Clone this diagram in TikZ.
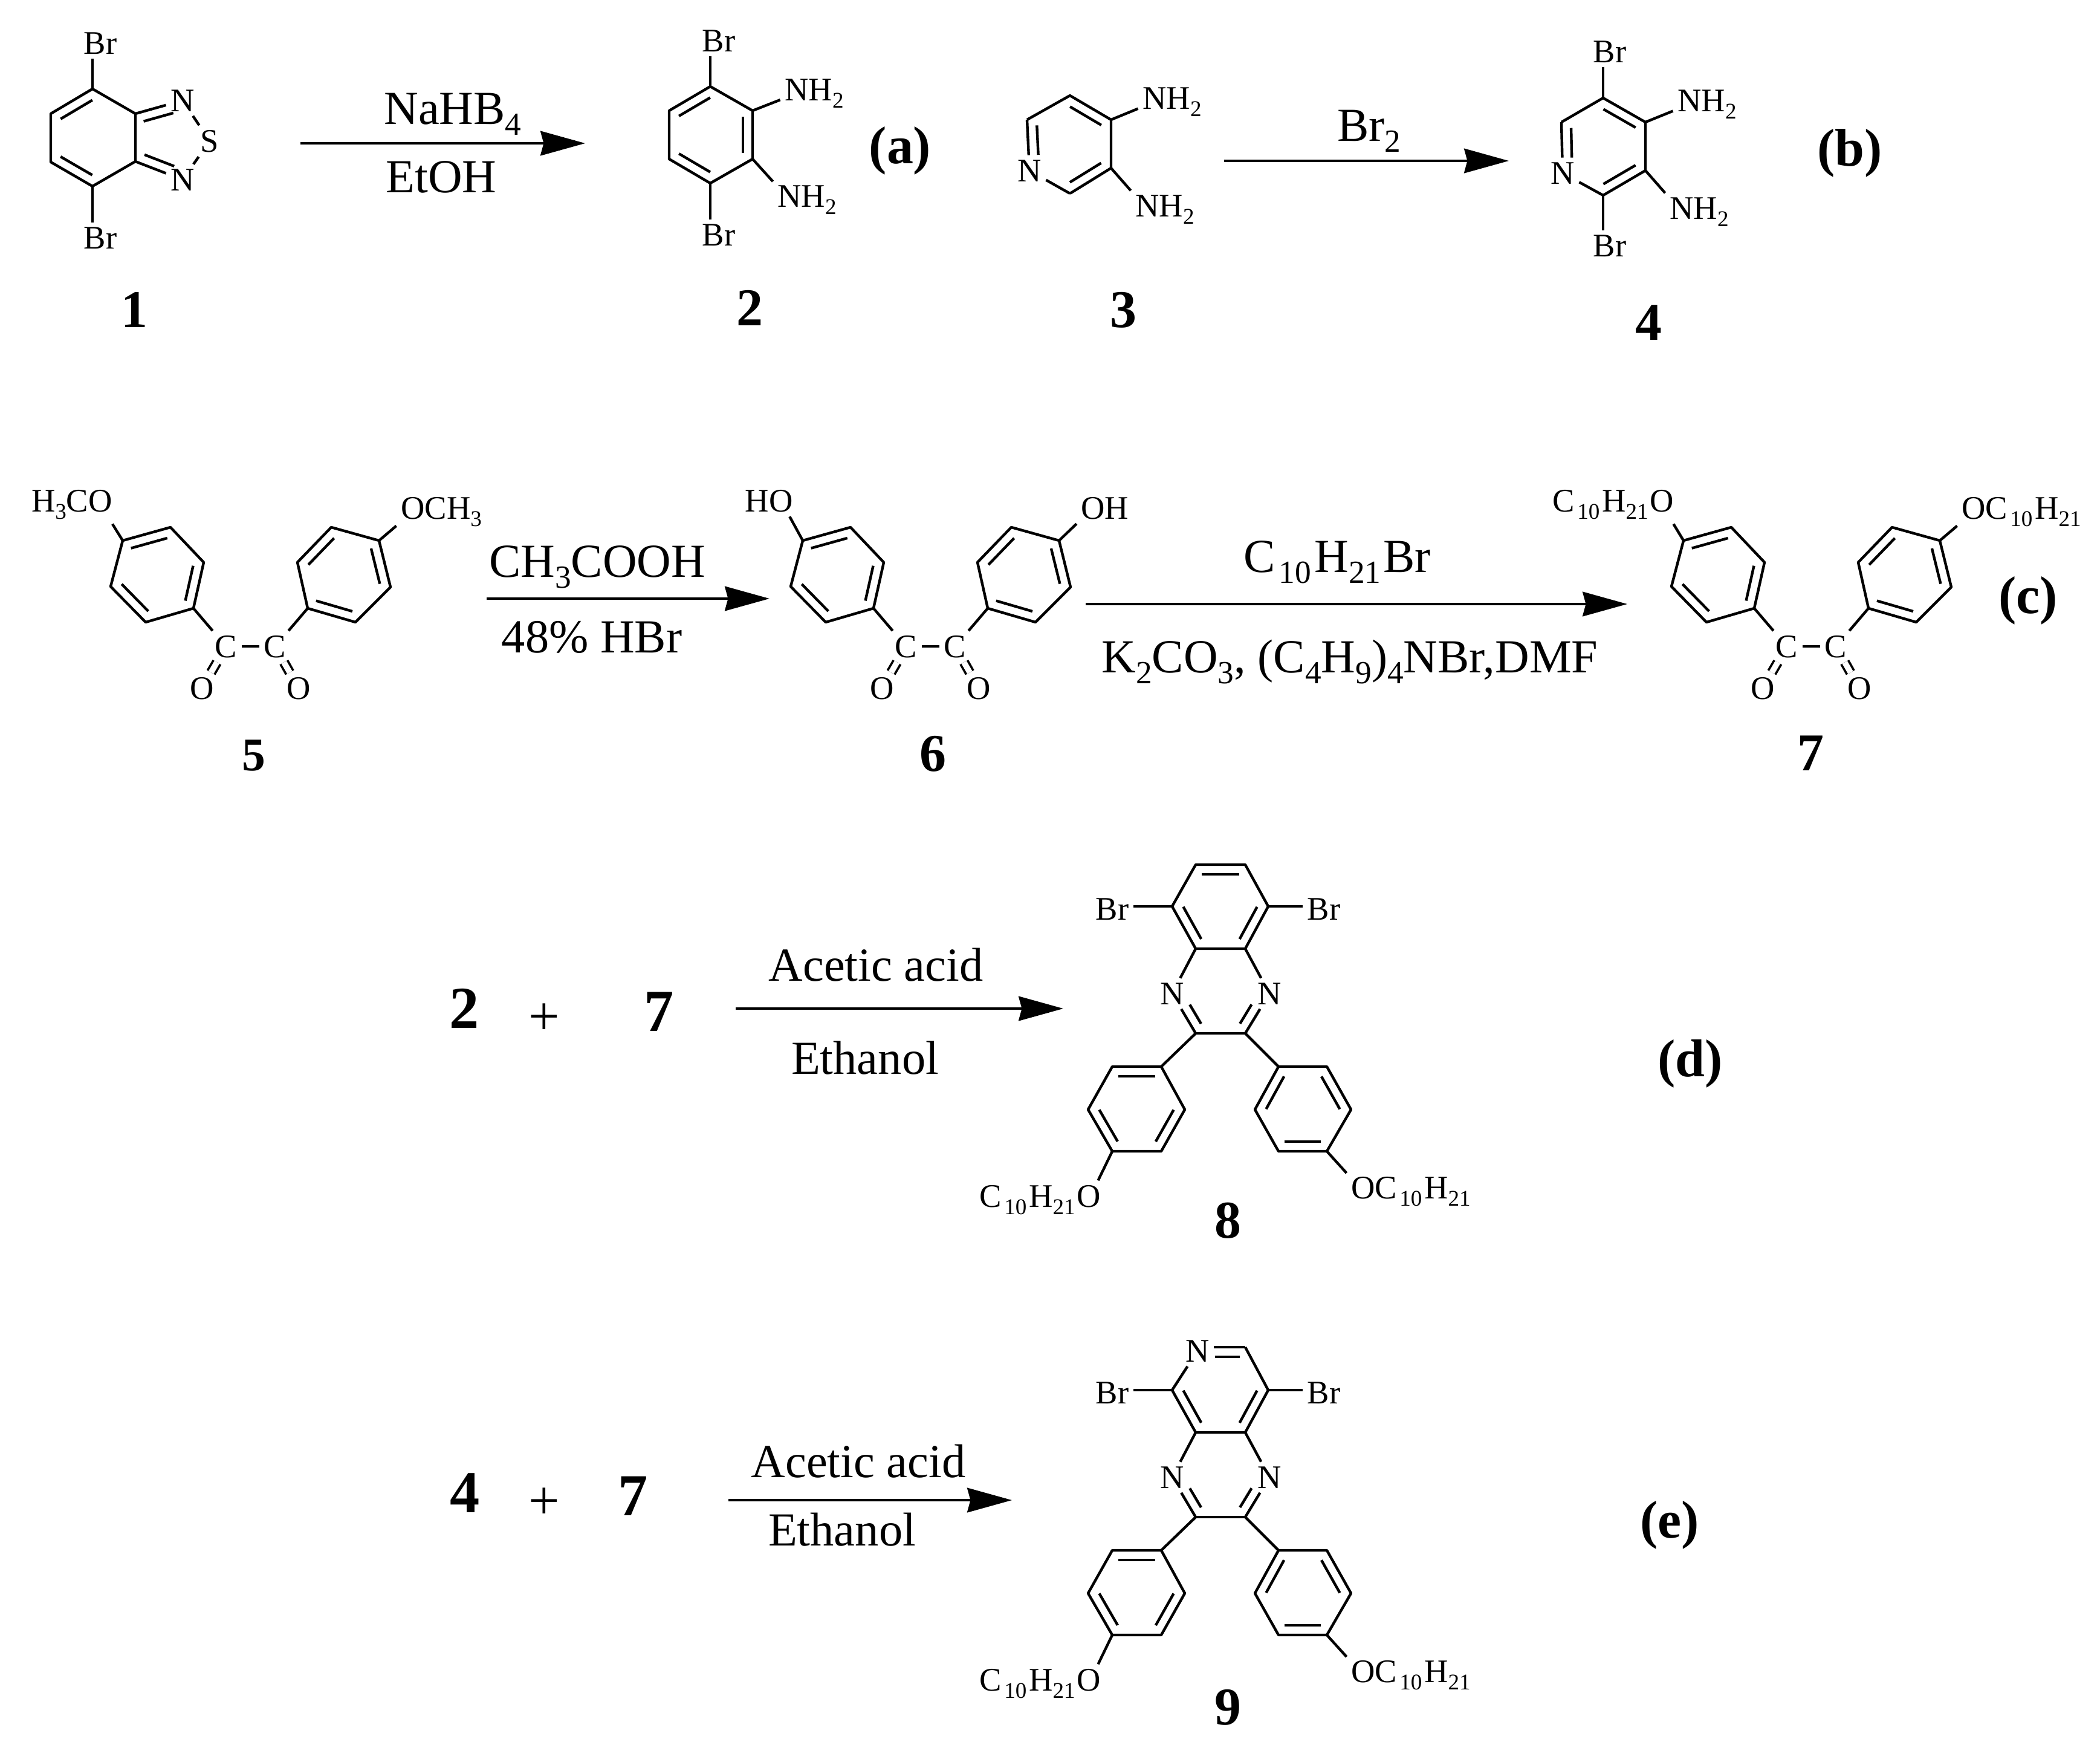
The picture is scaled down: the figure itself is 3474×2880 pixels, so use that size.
\documentclass[tikz,border=0pt]{standalone}
\usepackage{fontspec}
\setmainfont{Liberation Serif}
\usetikzlibrary{calc,arrows.meta}
\newcommand{\ssb}[1]{\raisebox{-.5ex}{\scalebox{.68}{#1}}}
\newcommand{\decyl}{C\kern.08em\ssb{10}\kern.07em H\ssb{21}\kern.05em}
\tikzset{
  bond/.style={line width=1.25pt,line join=round},
  dblbond/.style={line width=1.05pt,double,double distance=2.7pt},
  rxn/.style={line width=1.2pt,-{Stealth[length=21pt,width=11.5pt,inset=1.5pt]}},
  atom/.style={anchor=base,inner sep=2pt,font=\fontsize{15.5}{18}\selectfont},
  reagent/.style={anchor=base,inner sep=0pt,font=\fontsize{22.3}{26}\selectfont},
  plussign/.style={anchor=base,inner sep=0pt,font=\fontsize{26}{30}\selectfont},
  cmpd/.style={anchor=base,inner sep=0pt,font=\fontsize{25}{30}\selectfont\bfseries},
}
\NewDocumentCommand{\inbond}{O{.12} O{.12} m m}{\draw[bond] ($($(#3)!#1!(#4)$)!4.5pt!90:(#4)$) -- ($($(#4)!#2!(#3)$)!4.5pt!-90:(#3)$);}
\begin{document}
\begin{tikzpicture}[x=.01cm,y=-.01cm]
  \useasboundingbox (0,0) rectangle (3474,2880);
  % row a
  \coordinate (a1) at (153,147);
  \coordinate (a2) at (84,188);
  \coordinate (a3) at (84,268);
  \coordinate (a4) at (153,308);
  \coordinate (a5) at (224,267);
  \coordinate (a6) at (224,188);
  \node[atom] (aBr1) at (166,89) {Br};
  \node[atom] (aBr2) at (166,411) {Br};
  \node[atom] (aN1) at (302,184) {N};
  \node[atom] (aN2) at (302,315) {N};
  \node[atom] (aS) at (347,251) {S};
  \draw[bond] (a1) -- (a2) -- (a3) -- (a4) -- (a5) -- (a6) -- cycle;
  \inbond{a1}{a2}
  \inbond{a3}{a4}
  \inbond[.12][.25]{a5}{aN2}
  \inbond[.25][.12]{aN1}{a6}
  \draw[bond] (a1) to (a1 |- aBr1.south);
  \draw[bond] (a4) to (a4 |- aBr2.north);
  \draw[bond] (a6) to (aN1);
  \draw[bond] (a5) to (aN2);
  \draw[bond] (aN1) to (aS);
  \draw[bond] (aN2) to (aS);
  \node[cmpd] (lab1) at (222,541) {1};

  \coordinate (s1) at (497,237);
  \coordinate (t1) at (968,237);
  \draw[rxn] (s1) to (t1);
  \node[reagent] (rg1) at (749,205) {NaHB\ssb{4}};
  \node[reagent] (rg2) at (730,318) {EtOH};

  \coordinate (b1) at (1175,143);
  \coordinate (b2) at (1107,183);
  \coordinate (b3) at (1107,263);
  \coordinate (b4) at (1175,303);
  \coordinate (b5) at (1245,263);
  \coordinate (b6) at (1245,183);
  \node[atom] (bBr1) at (1189,85) {Br};
  \node[atom] (bBr2) at (1189,406) {Br};
  \node[atom] (bN1) at (1318,166) {N\rlap{H\ssb{2}}};
  \node[atom] (bN2) at (1306,342) {N\rlap{H\ssb{2}}};
  \draw[bond] (b1) -- (b2) -- (b3) -- (b4) -- (b5) -- (b6) -- cycle;
  \inbond{b1}{b2}
  \inbond{b3}{b4}
  \inbond{b5}{b6}
  \draw[bond] (b1) to (b1 |- bBr1.south);
  \draw[bond] (b4) to (b4 |- bBr2.north);
  \draw[bond] (b6) to (bN1);
  \draw[bond] (b5) to (bN2);
  \node[cmpd] (lab2) at (1240,538) {2};
  \node[cmpd] (taga) at (1489,270) {(a)};

  % row b
  \coordinate (c1) at (1770,158);
  \coordinate (c2) at (1699,198);
  \node[atom] (c3) at (1703,300) {N};
  \coordinate (c4) at (1770,320);
  \coordinate (c5) at (1838,278);
  \coordinate (c6) at (1838,198);
  \node[atom] (cN1) at (1910,180) {N\rlap{H\ssb{2}}};
  \node[atom] (cN2) at (1898,358) {N\rlap{H\ssb{2}}};
  \draw[bond] (c3) to (c2);
  \draw[bond] (c2) -- (c1) -- (c6) -- (c5) -- (c4);
  \draw[bond] (c4) to (c3);
  \inbond[.12][.3]{c2}{c3}
  \inbond{c4}{c5}
  \inbond{c6}{c1}
  \draw[bond] (c6) to (cN1);
  \draw[bond] (c5) to (cN2);
  \node[cmpd] (lab3) at (1858,541) {3};

  \coordinate (s2) at (2025,266);
  \coordinate (t2) at (2496,266);
  \draw[rxn] (s2) to (t2);
  \node[reagent] (rg3) at (2265,233) {Br\ssb{2}};

  \coordinate (d1) at (2652,162);
  \coordinate (d2) at (2583,202);
  \node[atom] (d3) at (2585,304) {N};
  \coordinate (d4) at (2652,323);
  \coordinate (d5) at (2722,282);
  \coordinate (d6) at (2722,202);
  \node[atom] (dBr1) at (2663,103) {Br};
  \node[atom] (dBr2) at (2663,424) {Br};
  \node[atom] (dN1) at (2795,184) {N\rlap{H\ssb{2}}};
  \node[atom] (dN2) at (2782,362) {N\rlap{H\ssb{2}}};
  \draw[bond] (d3) to (d2);
  \draw[bond] (d2) -- (d1) -- (d6) -- (d5) -- (d4);
  \draw[bond] (d4) to (d3);
  \inbond[.12][.3]{d2}{d3}
  \inbond{d4}{d5}
  \inbond{d6}{d1}
  \draw[bond] (d1) to (d1 |- dBr1.south);
  \draw[bond] (d4) to (d4 |- dBr2.north);
  \draw[bond] (d6) to (dN1);
  \draw[bond] (d5) to (dN2);
  \node[cmpd] (lab4) at (2727,562) {4};
  \node[cmpd] (tagb) at (3060,274) {(b)};

  % row c: the same diketone core three times
  \foreach \m/\dx in {e/0,f/1125,g/2582} {
    \begin{scope}[shift={(\dx,0)}]
      \coordinate (\m l1) at (282,872);
      \coordinate (\m l2) at (203,894);
      \coordinate (\m l3) at (183,970);
      \coordinate (\m l4) at (241,1029);
      \coordinate (\m l5) at (320,1006);
      \coordinate (\m l6) at (337,930);
      \coordinate (\m r1) at (548,872);
      \coordinate (\m r2) at (492,930);
      \coordinate (\m r3) at (509,1006);
      \coordinate (\m r4) at (588,1029);
      \coordinate (\m r5) at (646,971);
      \coordinate (\m r6) at (627,894);
      \node[atom] (\m C1) at (374,1087) {C};
      \node[atom] (\m C2) at (455,1087) {C};
      \node[atom] (\m O1) at (334,1156) {O};
      \node[atom] (\m O2) at (494,1156) {O};
      \draw[bond] (\m l1) -- (\m l2) -- (\m l3) -- (\m l4) -- (\m l5) -- (\m l6) -- cycle;
      \draw[bond] (\m r1) -- (\m r2) -- (\m r3) -- (\m r4) -- (\m r5) -- (\m r6) -- cycle;
      \inbond{\m l1}{\m l2}
      \inbond{\m l3}{\m l4}
      \inbond{\m l5}{\m l6}
      \inbond{\m r1}{\m r2}
      \inbond{\m r3}{\m r4}
      \inbond{\m r5}{\m r6}
      \draw[bond] (\m l5) to (\m C1);
      \draw[bond] (\m r3) to (\m C2);
      \draw[bond] (\m C1) to (\m C2);
      \draw[dblbond] (\m C1) to (\m O1);
      \draw[dblbond] (\m C2) to (\m O2);
    \end{scope}
  }
  \node[atom] (eO3) at (166,846) {\llap{H\ssb{3}C}O};
  \node[atom] (eO4) at (683,858) {O\rlap{CH\ssb{3}}};
  \node[atom] (fO3) at (1292,846) {\llap{H}O};
  \node[atom] (fO4) at (1808,858) {O\rlap{H}};
  \node[atom] (gO3) at (2749,846) {\llap{\decyl}O};
  \node[atom] (gO4) at (3265,858) {O\rlap{\decyl}};
  \foreach \m in {e,f,g} {
    \draw[bond] (\m l2) to (\m O3);
    \draw[bond] (\m r6) to (\m O4);
  }
  \node[font=\fontsize{22}{26}\selectfont\bfseries,anchor=base,inner sep=0pt] (lab5) at (420,1274) {5};
  \node[cmpd] (lab6) at (1543,1275) {6};
  \node[cmpd] (lab7) at (2995,1274) {7};
  \node[cmpd] (tagc) at (3355,1014) {(c)};

  \coordinate (s3) at (805,990);
  \coordinate (t3) at (1273,990);
  \draw[rxn] (s3) to (t3);
  \node[reagent] (rg4) at (988,954) {CH\ssb{3}COOH};
  \node[reagent] (rg5) at (979,1079) {48\% HBr};

  \coordinate (s4) at (1796,999);
  \coordinate (t4) at (2692,999);
  \draw[rxn] (s4) to (t4);
  \node[reagent] (rg6) at (2212,946) {\decyl Br};
  \node[reagent] (rg7) at (2233,1112) {K\ssb{2}CO\ssb{3}, (C\ssb{4}H\ssb{9})\ssb{4}NBr,DMF};

  % rows d and e: the same lower half twice
  \foreach \m/\dy in {h/0,k/800} {
    \begin{scope}[shift={(0,\dy)}]
      \coordinate (\m q2) at (1939,1499);
      \coordinate (\m q3) at (1978,1569);
      \coordinate (\m q4) at (2060,1569);
      \coordinate (\m q5) at (2098,1499);
      \node[atom] (\m Br1) at (1840,1521) {Br};
      \node[atom] (\m Br2) at (2190,1521) {Br};
      \node[atom] (\m N1) at (1939,1661) {N};
      \node[atom] (\m N2) at (2100,1661) {N};
      \coordinate (\m p1) at (1978,1709);
      \coordinate (\m p2) at (2060,1709);
      \coordinate (\m l1) at (1921,1764);
      \coordinate (\m l2) at (1840,1764);
      \coordinate (\m l3) at (1800,1835);
      \coordinate (\m l4) at (1840,1904);
      \coordinate (\m l5) at (1921,1904);
      \coordinate (\m l6) at (1960,1835);
      \coordinate (\m r1) at (2115,1764);
      \coordinate (\m r2) at (2076,1835);
      \coordinate (\m r3) at (2115,1904);
      \coordinate (\m r4) at (2195,1904);
      \coordinate (\m r5) at (2235,1835);
      \coordinate (\m r6) at (2195,1764);
      \node[atom] (\m O1) at (1801,1996) {\llap{\decyl}O};
      \node[atom] (\m O2) at (2255,1982) {O\rlap{\decyl}};
      \draw[bond] (\m q2) -- (\m q3) -- (\m q4) -- (\m q5);
      \draw[bond] (\m p1) -- (\m p2);
      \draw[bond] (\m l1) -- (\m l2) -- (\m l3) -- (\m l4) -- (\m l5) -- (\m l6) -- cycle;
      \draw[bond] (\m r1) -- (\m r2) -- (\m r3) -- (\m r4) -- (\m r5) -- (\m r6) -- cycle;
      \inbond{\m q2}{\m q3}
      \inbond{\m q4}{\m q5}
      \inbond[.4][.12]{\m N1}{\m p1}
      \inbond[.12][.4]{\m p2}{\m N2}
      \inbond{\m l1}{\m l2}
      \inbond{\m l3}{\m l4}
      \inbond{\m l5}{\m l6}
      \inbond{\m r1}{\m r2}
      \inbond{\m r3}{\m r4}
      \inbond{\m r5}{\m r6}
      \draw[bond] (\m q2) to (\m q2 -| \m Br1.east);
      \draw[bond] (\m q5) to (\m q5 -| \m Br2.west);
      \draw[bond] (\m q3) to (\m N1);
      \draw[bond] (\m q4) to (\m N2);
      \draw[bond] (\m N1) to (\m p1);
      \draw[bond] (\m N2) to (\m p2);
      \draw[bond] (\m p1) to (\m l1);
      \draw[bond] (\m p2) to (\m r1);
      \draw[bond] (\m l4) to (\m O1);
      \draw[bond] (\m r4) to (\m O2);
    \end{scope}
  }
  \coordinate (hq1) at (1978,1430);
  \coordinate (hq6) at (2060,1430);
  \draw[bond] (hq2) -- (hq1) -- (hq6) -- (hq5);
  \inbond{hq6}{hq1}
  \node[atom] (kN3) at (1981,2252) {N};
  \coordinate (kq6) at (2060,2228);
  \draw[bond] (kq2) to (kN3);
  \draw[bond] (kq5) to (kq6);
  \draw[bond] (kq6) to (kq6 -| kN3.east);
  \inbond[.12][.37]{kq6}{kq6 -| kN3}

  \node[cmpd,font=\fontsize{28}{32}\selectfont\bfseries] (lab2b) at (768,1700) {2};
  \node[plussign] (plus1) at (900,1711) {+};
  \node[cmpd,font=\fontsize{28}{32}\selectfont\bfseries] (lab7b) at (1090,1705) {7};
  \coordinate (s5) at (1217,1668);
  \coordinate (t5) at (1759,1668);
  \draw[rxn] (s5) to (t5);
  \node[reagent] (rg8) at (1449,1622) {Acetic acid};
  \node[reagent] (rg9) at (1431,1776) {Ethanol};
  \node[cmpd] (lab8) at (2031,2047) {8};
  \node[cmpd] (tagd) at (2796,1780) {(d)};

  \node[cmpd,font=\fontsize{28}{32}\selectfont\bfseries] (lab4b) at (769,2501) {4};
  \node[plussign] (plus2) at (900,2512) {+};
  \node[cmpd,font=\fontsize{28}{32}\selectfont\bfseries] (lab7c) at (1047,2506) {7};
  \coordinate (s6) at (1205,2481);
  \coordinate (t6) at (1674,2481);
  \draw[rxn] (s6) to (t6);
  \node[reagent] (rg10) at (1420,2443) {Acetic acid};
  \node[reagent] (rg11) at (1393,2556) {Ethanol};
  \node[cmpd] (lab9) at (2031,2852) {9};
  \node[cmpd] (tage) at (2762,2543) {(e)};
\end{tikzpicture}
\end{document}
